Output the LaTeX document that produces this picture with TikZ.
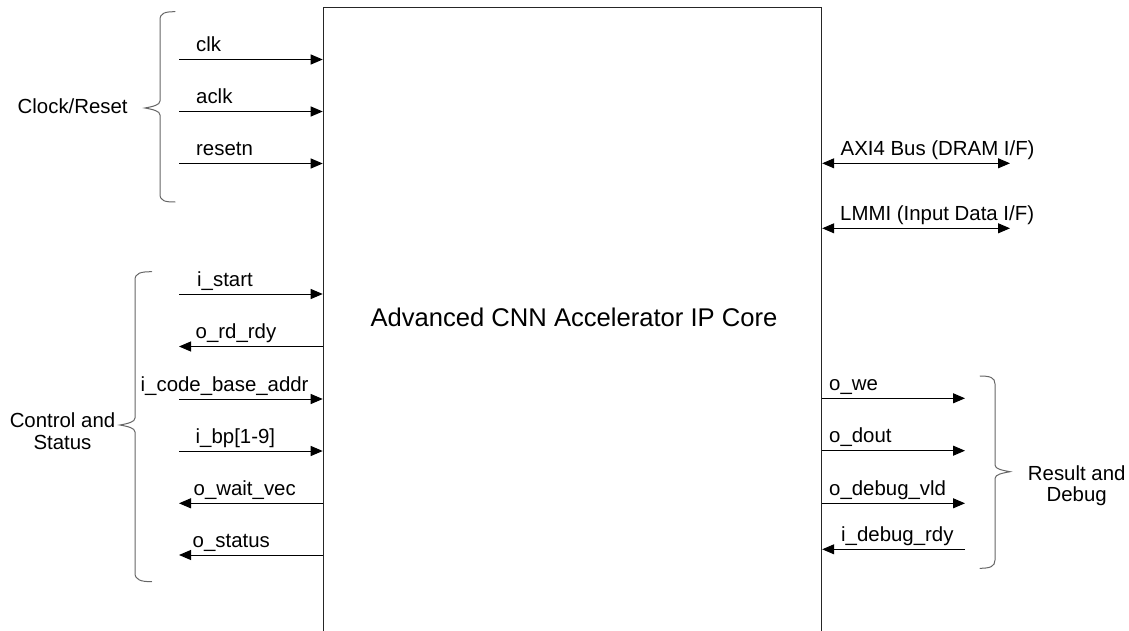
\documentclass[tikz,border=0pt]{standalone}
\usepackage{fontspec}
\setmainfont{Liberation Sans}
\usetikzlibrary{arrows.meta}
\begin{document}
\begin{tikzpicture}[x=1pt,y=-1pt,
  lbl/.style={anchor=base west, inner sep=0pt, font=\fontsize{20.4}{24}\selectfont},
  grp/.style={anchor=base, inner sep=0pt, font=\fontsize{20.4}{24}\selectfont},
  sig/.style={line width=1pt, -{Triangle[length=12pt,width=10pt]}},
  bidir/.style={line width=1pt, {Triangle[length=12pt,width=10pt]}-{Triangle[length=12pt,width=10pt]}},
  bracepath/.style={line width=1pt, draw=black!60, line cap=round},
  corebox/.style={draw=black!85, line width=1.2pt, anchor=north west, inner sep=0pt,
    minimum width=498.3pt, minimum height=660pt}]
\useasboundingbox (0,0) rectangle (1129,631);
\clip (0,0) rectangle (1129,631);

% core block (open at the bottom, cut by the picture edge)
\node[corebox] (core) at (322.7,6.7) {};
\node[anchor=base, inner sep=0pt, font=\fontsize{25.6}{30}\selectfont] (title) at (574,326.7)
  {Advanced CNN Accelerator IP Core};

% ---------- left: clock / reset ----------
\coordinate (clkE) at (179,59.5);
\coordinate (aclkE) at (179,111.5);
\coordinate (rstE) at (179,163.5);
\draw[sig] (clkE) -- (clkE -| core.west);
\draw[sig] (aclkE) -- (aclkE -| core.west);
\draw[sig] (rstE) -- (rstE -| core.west);
\node[lbl] (clkL) at (196,51.5) {clk};
\node[lbl] (aclkL) at (196,103.5) {aclk};
\node[lbl] (rstL) at (196,155.5) {resetn};

\draw[bracepath] (175,11.7) .. controls (165,11.7) and (160,13) .. (160,20)
  -- (160,101) .. controls (160,105) and (153,106.5) .. (145,108)
  .. controls (153,109.5) and (160,111) .. (160,115)
  -- (160,194) .. controls (160,201) and (165,202) .. (175,202);
\node[lbl] (clkgrp) at (17.5,113.3) {Clock/Reset};

% ---------- left: control and status ----------
\coordinate (stE) at (179,294);
\coordinate (rdE) at (179,346.5);
\coordinate (cbE) at (179,399);
\coordinate (bpE) at (179,451);
\coordinate (wvE) at (179,503.3);
\coordinate (osE) at (179,555);
\draw[sig] (stE) -- (stE -| core.west);
\draw[sig] (rdE -| core.west) -- (rdE);
\draw[sig] (cbE) -- (cbE -| core.west);
\draw[sig] (bpE) -- (bpE -| core.west);
\draw[sig] (wvE -| core.west) -- (wvE);
\draw[sig] (osE -| core.west) -- (osE);
\node[lbl] (stL) at (197,286) {i\_start};
\node[lbl] (rdL) at (195.5,338.5) {o\_rd\_rdy};
\node[lbl] (cbL) at (140.5,391) {i\_code\_base\_addr};
\node[lbl] (bpL) at (195.5,443) {i\_bp[1-9]};
\node[lbl] (wvL) at (193.5,495.3) {o\_wait\_vec};
\node[lbl] (osL) at (192.5,547) {o\_status};

\draw[bracepath] (151.7,271.7) .. controls (141,271.7) and (135,273) .. (135,280)
  -- (135,418) .. controls (135,422) and (128,423.5) .. (120,425)
  .. controls (128,426.5) and (135,428) .. (135,432)
  -- (135,573) .. controls (135,580) and (141,581.7) .. (151.7,581.7);
\node[grp] (ctrl1) at (62.5,427.3) {Control and};
\node[grp] (ctrl2) at (62.5,449.5) {Status};

% ---------- right: buses ----------
\coordinate (axiE) at (1010,163.3);
\coordinate (lmE) at (1010,228.3);
\draw[bidir] (axiE -| core.east) -- (axiE);
\draw[bidir] (lmE -| core.east) -- (lmE);
\node[lbl] (axiL) at (840.5,155.3) {AXI4 Bus (DRAM I/F)};
\node[lbl] (lmL) at (840,220.3) {LMMI (Input Data I/F)};

% ---------- right: result and debug ----------
\coordinate (weE) at (965,398.3);
\coordinate (doE) at (965,450.7);
\coordinate (dvE) at (965,503.3);
\coordinate (drE) at (965,549.3);
\draw[sig] (weE -| core.east) -- (weE);
\draw[sig] (doE -| core.east) -- (doE);
\draw[sig] (dvE -| core.east) -- (dvE);
\draw[sig] (drE) -- (drE -| core.east);
\node[lbl] (weL) at (829,390.3) {o\_we};
\node[lbl] (doL) at (829,442.7) {o\_dout};
\node[lbl] (dvL) at (829,495.3) {o\_debug\_vld};
\node[lbl] (drL) at (841,541.3) {i\_debug\_rdy};

\draw[bracepath] (980,376) .. controls (990,376) and (995,377.5) .. (995,384)
  -- (995,465) .. controls (995,469) and (1002,470.2) .. (1010,471.7)
  .. controls (1002,473.2) and (995,474.5) .. (995,478.5)
  -- (995,560) .. controls (995,566.5) and (990,568.3) .. (980,568.3);
\node[grp] (res1) at (1076.7,480.7) {Result and};
\node[grp] (res2) at (1076.7,501.7) {Debug};
\end{tikzpicture}
\end{document}
